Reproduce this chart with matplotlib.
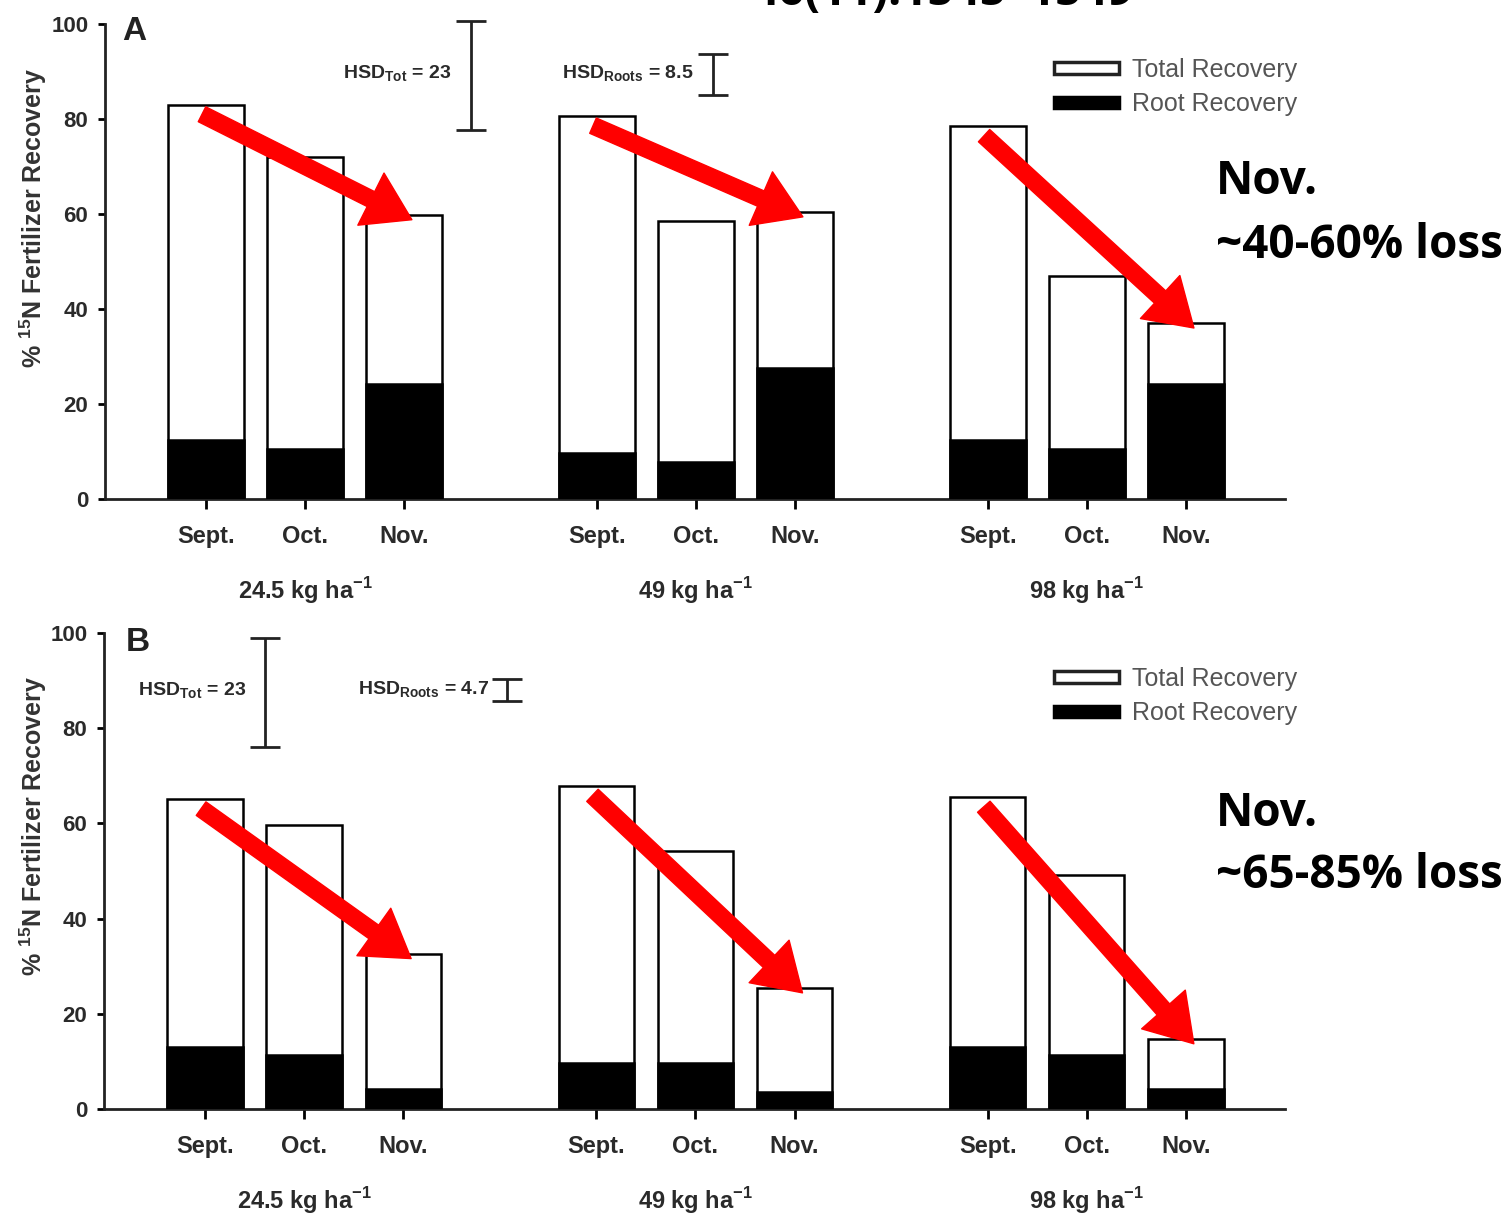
import matplotlib
matplotlib.use("Agg")
import matplotlib.pyplot as plt
from matplotlib.patches import Patch
import numpy as np

plt.rcParams['font.family'] = ['Liberation Sans', 'DejaVu Sans']
plt.rcParams['mathtext.fontset'] = 'custom'
plt.rcParams['mathtext.rm'] = 'Liberation Sans'
plt.rcParams['mathtext.bf'] = 'Liberation Sans:bold'

# data
months = ["Sept.", "Oct.", "Nov."]
rates = ["24.5 kg ha$^{\\mathbf{-1}}$", "49 kg ha$^{\\mathbf{-1}}$", "98 kg ha$^{\\mathbf{-1}}$"]

total_A = [83.0, 72.0, 59.8, 80.6, 58.5, 60.4, 78.5, 46.9, 37.0]
root_A = [12.4, 10.5, 24.2, 9.7, 7.8, 27.6, 12.4, 10.5, 24.2]
total_B = [65.1, 59.7, 32.6, 67.9, 54.2, 25.4, 65.5, 49.2, 14.7]
root_B = [13.0, 11.3, 4.2, 9.7, 9.7, 3.6, 13.0, 11.3, 4.2]

# HSD bars: (label, value, centre of bar in y)
hsd_A = [("Tot", 23, 89.2), ("Roots", 8.5, 89.4)]
hsd_B = [("Tot", 23, 87.5), ("Roots", 4.7, 88.0)]

loss_A = "~40-60% loss"
loss_B = "~65-85% loss"

# x positions: three groups of three bars
group_gap = 3.95
xpos = np.array([g * group_gap + m for g in range(3) for m in range(3)])

fig = plt.figure(figsize=(15.08, 12.25), dpi=100)
W, H = 1508, 1225


def make_panel(rect, total, root, hsd, letter, hsd_pos, label_pos):
    ax = fig.add_axes(rect)
    ax.bar(xpos, total, width=0.76, color="white", edgecolor="black", linewidth=1.8, zorder=2)
    ax.bar(xpos, root, width=0.76, color="black", edgecolor="black", linewidth=1.8, zorder=3)
    ax.set_xlim(-1.02, 10.9)
    ax.set_ylim(0, 100)
    ax.spines["top"].set_visible(False)
    ax.spines["right"].set_visible(False)
    for s in ["left", "bottom"]:
        ax.spines[s].set_linewidth(2.0)
        ax.spines[s].set_color("#222222")
    ax.set_yticks(range(0, 101, 20))
    ax.set_xticks(xpos)
    ax.set_xticklabels(months * 3, fontsize=17, fontweight="bold", color="#2a2a2a")
    ax.tick_params(axis="x", length=7, width=2, pad=12)
    ax.tick_params(axis="y", length=5, width=2, labelsize=16, pad=7, labelcolor="#2a2a2a")
    for t in ax.get_yticklabels():
        t.set_fontweight("bold")
    for g in range(3):
        ax.text(xpos[g * 3 + 1], -19.3, rates[g], ha="center", va="center",
                fontsize=17, fontweight="bold", color="#2a2a2a")
    ax.text(label_pos[0], label_pos[1], letter, fontsize=24, fontweight="bold",
            va="center", ha="left", color="#222222")

    # HSD bars
    for (name, val, cy), (bx, tx, ty) in zip(hsd, hsd_pos):
        eb = ax.errorbar([bx], [cy], yerr=[val / 2], color="#222222", capsize=11, capthick=2,
                         elinewidth=2, fmt="none")
        for part in eb.lines[1] + eb.lines[2]:
            part.set_clip_on(False)
        ax.text(tx, ty, "HSD$_{\\mathbf{%s}}$ = %s" % (name, val),
                fontsize=14, fontweight="bold", ha="right", va="center", color="#2a2a2a")

    # red arrows from Sept. to Nov. in each group
    for g in range(3):
        xs, ts = xpos[g * 3], total[g * 3]
        xn, tn = xpos[g * 3 + 2], total[g * 3 + 2]
        ax.annotate("", xy=(xn + 0.08, tn - 1), xytext=(xs - 0.04, ts - 2),
                    arrowprops=dict(arrowstyle="simple,head_length=3.3,head_width=4.2,tail_width=1.2",
                                    color="red", mutation_scale=10, shrinkA=0, shrinkB=0),
                    zorder=5)

    leg = ax.legend(handles=[Patch(facecolor="white", edgecolor="#222222", linewidth=2.5),
                             Patch(facecolor="black", edgecolor="black", linewidth=2.5)],
                    labels=["Total Recovery", "Root Recovery"],
                    loc="upper right", bbox_to_anchor=(1.029, 0.976), frameon=False,
                    fontsize=18, handlelength=2.6, handleheight=0.35,
                    handletextpad=0.5, labelspacing=0.42)
    for t in leg.get_texts():
        t.set_color("#555555")
    return ax


axA = make_panel([105 / W, 1 - 499 / H, 1180 / W, 475 / H], total_A, root_A, hsd_A, "A",
                 [(2.68, 2.48, 89.5), (5.12, 4.92, 89.5)], (-0.85, 98.5))
axB = make_panel([104 / W, 1 - 1109 / H, 1181 / W, 476 / H], total_B, root_B, hsd_B, "B",
                 [(0.6, 0.42, 87.8), (3.05, 2.87, 88.0)], (-0.8, 98))

# y labels
for yc in (218, 826):
    fig.text(33 / W, 1 - yc / H, "% $^{\\mathbf{15}}$N Fertilizer Recovery", rotation=90,
             fontsize=18, fontweight="bold", ha="center", va="center", color="#333333")

# overlay annotations
over = dict(family=["Open Sans", "DejaVu Sans"], fontweight="bold", fontsize=33, color="black",
            ha="left", va="center")
fig.text(1216 / W, 1 - 182 / H, "Nov.", **over)
fig.text(1216 / W, 1 - 245 / H, loss_A, **over)
fig.text(1216 / W, 1 - 813 / H, "Nov.", **over)
fig.text(1216 / W, 1 - 876 / H, loss_B, **over)
fig.text(752 / W, 1 - 5 / H, "46(11):1545\u20131549", family=["Open Sans", "DejaVu Sans"],
         fontweight="bold", fontsize=33, ha="left", va="baseline")

fig.savefig("out.png", dpi=100)
